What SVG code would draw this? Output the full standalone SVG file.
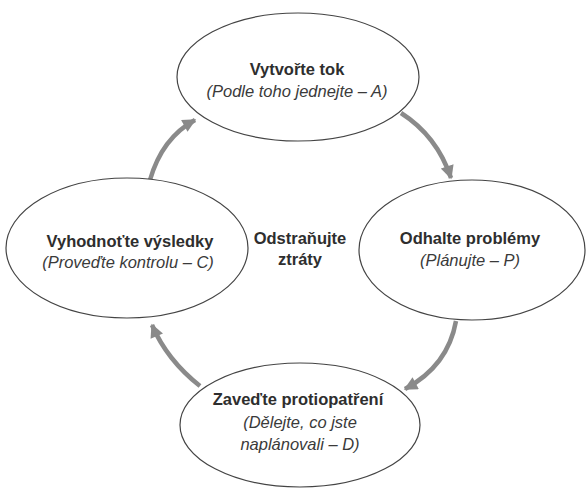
<svg xmlns="http://www.w3.org/2000/svg" width="586" height="488" viewBox="0 0 586 488">
<defs>
<style>
.node ellipse{fill:#fff;stroke:#444;stroke-width:1.2}
.b{font-family:"Liberation Sans",Arial,sans-serif;font-weight:bold;font-size:16.5px;fill:#2e2e2e;text-anchor:middle}
.i{font-family:"Liberation Sans",Arial,sans-serif;font-style:italic;font-size:16.5px;fill:#3a3a3a;text-anchor:middle}
.arr{fill:none;stroke:#8a8a8a;stroke-width:4.5;marker-end:url(#ah)}
</style>
<marker id="ah" viewBox="0 0 10 10" refX="9" refY="5" markerWidth="3.2" markerHeight="3" orient="auto" markerUnits="strokeWidth">
<path d="M0,0 L10,5 L0,10 z" fill="#8a8a8a"/>
</marker>
</defs>
<rect width="586" height="488" fill="#fff"/>
<g id="connectors">
<path class="arr" d="M401,113 Q437,136 451,178"/>
<path class="arr" d="M456,321 Q448,366 405,389"/>
<path class="arr" d="M200,386 Q167,360 152,325"/>
<path class="arr" d="M150,180 Q162,138 195,120"/>
</g>
<g id="plan" class="node">
<ellipse cx="298" cy="77" rx="121" ry="64"/>
<text class="b" x="297" y="75">Vytvořte tok</text>
<text class="i" x="297" y="97">(Podle toho jednejte – A)</text>
</g>
<g id="problem" class="node">
<ellipse cx="472" cy="250" rx="113" ry="70"/>
<text class="b" x="470" y="244">Odhalte problémy</text>
<text class="i" x="470" y="266">(Plánujte – P)</text>
</g>
<g id="do" class="node">
<ellipse cx="300" cy="425" rx="120" ry="62"/>
<text class="b" x="298" y="405">Zaveďte protiopatření</text>
<text class="i" x="300" y="428">(Dělejte, co jste</text>
<text class="i" x="300" y="450">naplánovali – D)</text>
</g>
<g id="check" class="node">
<ellipse cx="127" cy="248" rx="121" ry="70"/>
<text class="b" x="130" y="247">Vyhodnoťte výsledky</text>
<text class="i" x="128" y="268">(Proveďte kontrolu – C)</text>
</g>
<g id="center">
<text class="b" x="300" y="244">Odstraňujte</text>
<text class="b" x="300" y="265">ztráty</text>
</g>
</svg>
